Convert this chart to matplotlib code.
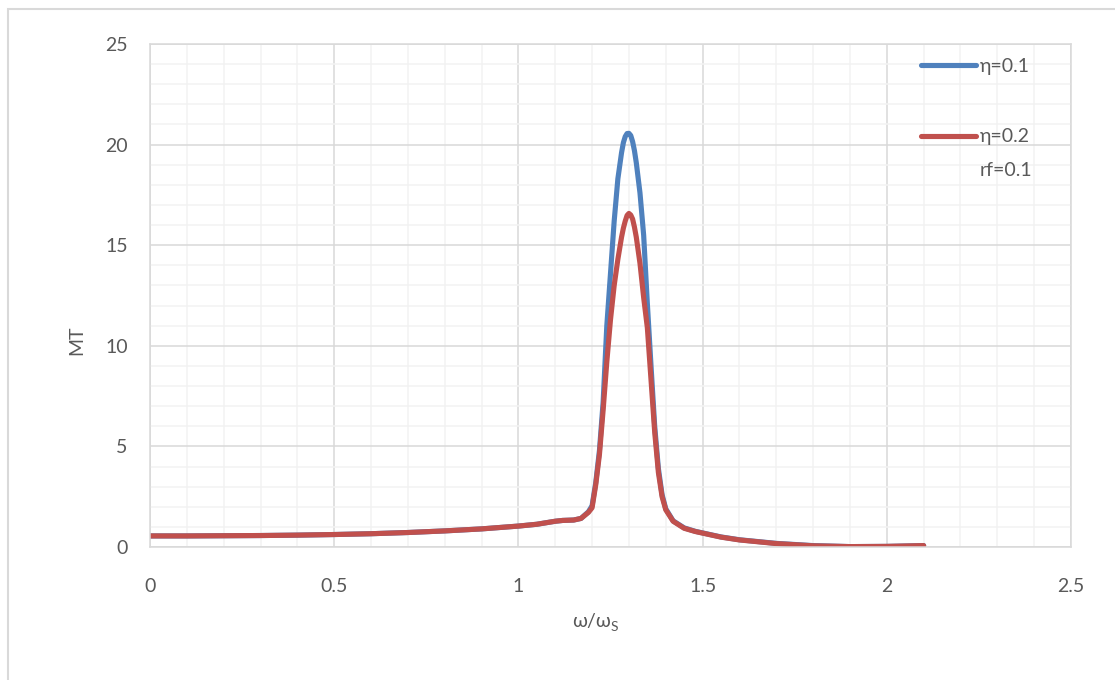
import matplotlib
matplotlib.use("Agg")
import matplotlib.pyplot as plt
from matplotlib.ticker import MultipleLocator, FuncFormatter
from matplotlib.patches import Rectangle

# ---- data ----
x_vals = [0.0, 0.1, 0.2, 0.3, 0.4, 0.5, 0.6, 0.7, 0.8, 0.9, 1.0, 1.05, 1.1, 1.12,
          1.15, 1.17, 1.19, 1.20, 1.21, 1.22, 1.23, 1.24, 1.25, 1.26, 1.27, 1.28,
          1.285, 1.29, 1.295, 1.30, 1.305, 1.31, 1.315, 1.32, 1.33, 1.34, 1.35,
          1.36, 1.37, 1.38, 1.39, 1.40, 1.42, 1.45, 1.48, 1.50, 1.55, 1.60, 1.70,
          1.80, 1.90, 2.00, 2.10]
mt_eta01 = [0.55, 0.55, 0.56, 0.57, 0.59, 0.62, 0.66, 0.72, 0.80, 0.90, 1.04, 1.13,
            1.28, 1.32, 1.34, 1.42, 1.75, 2.05, 3.2, 4.8, 7.2, 11.0, 13.6, 16.2,
            18.3, 19.6, 20.1, 20.4, 20.55, 20.56, 20.45, 20.15, 19.7, 19.1, 17.6,
            15.5, 12.1, 9.0, 6.0, 3.9, 2.6, 1.9, 1.3, 0.95, 0.78, 0.70, 0.50, 0.36,
            0.18, 0.07, 0.02, 0.03, 0.07]
mt_eta02 = [0.55, 0.55, 0.56, 0.57, 0.59, 0.62, 0.66, 0.72, 0.80, 0.90, 1.04, 1.13,
            1.28, 1.32, 1.34, 1.42, 1.72, 1.95, 3.1, 4.6, 6.8, 9.2, 11.3, 13.0,
            14.3, 15.4, 15.85, 16.2, 16.48, 16.58, 16.5, 16.3, 15.9, 15.4, 14.1,
            12.4, 10.9, 8.3, 5.7, 3.7, 2.5, 1.85, 1.28, 0.93, 0.77, 0.69, 0.49, 0.35,
            0.17, 0.06, 0.02, 0.03, 0.07]
series_labels = ["η=0.1", "η=0.2"]
extra_legend_text = "rf=0.1"
x_label_main = "ω/ω"
x_label_sub = "S"
y_label = "MT"

FONT = ["Lato", "DejaVu Sans"]
plt.rcParams["font.family"] = FONT
TXT = "#595959"
BLUE = "#4F81BD"
RED = "#C0504D"
FS = 14

W, H = 1115, 680
fig = plt.figure(figsize=(W / 100, H / 100), dpi=100)
fig.patch.set_facecolor("white")

# outer chart-area border (cropped: only left and top edges visible)
fig.patches.append(Rectangle((8 / W, -0.2), 1.5, (H - 9) / H + 0.2,
                             transform=fig.transFigure, fill=False,
                             edgecolor="#D9D9D9", linewidth=1.5))

ax = fig.add_axes([150 / W, (H - 547) / H, (1071 - 150) / W, (547 - 44) / H])
ax.set_xlim(0, 2.5)
ax.set_ylim(0, 25)
ax.xaxis.set_major_locator(MultipleLocator(0.5))
ax.xaxis.set_minor_locator(MultipleLocator(0.1))
ax.yaxis.set_major_locator(MultipleLocator(5))
ax.yaxis.set_minor_locator(MultipleLocator(1))
ax.grid(which="minor", color="#F2F2F2", linewidth=1.1)
ax.grid(which="major", color="#D9D9D9", linewidth=1.1)
ax.set_axisbelow(True)
for s in ax.spines.values():
    s.set_color("#D9D9D9")
    s.set_linewidth(1.1)
ax.tick_params(which="both", length=0)
ax.tick_params(axis="x", pad=22, labelsize=FS, labelcolor=TXT)
ax.tick_params(axis="y", pad=16, labelsize=FS, labelcolor=TXT)
ax.xaxis.set_major_formatter(FuncFormatter(lambda v, p: f"{v:g}"))
ax.yaxis.set_major_formatter(FuncFormatter(lambda v, p: f"{v:g}"))

l1, = ax.plot(x_vals, mt_eta01, color=BLUE, linewidth=3.7, solid_capstyle="round",
              solid_joinstyle="round", label=series_labels[0])
l2, = ax.plot(x_vals, mt_eta02, color=RED, linewidth=3.7, solid_capstyle="round",
              solid_joinstyle="round", label=series_labels[1])

leg = ax.legend(handles=[l1, l2], loc="upper left", bbox_to_anchor=(921 / W, (H - 58) / H),
                bbox_transform=fig.transFigure, frameon=False, fontsize=FS,
                labelcolor=TXT, handlelength=2.85, handletextpad=0.2,
                labelspacing=2.75, borderpad=0, borderaxespad=0)
fig.text(980 / W, (H - 170) / H, extra_legend_text, fontsize=FS, color=TXT,
         ha="left", va="center")

ax.set_ylabel(y_label, fontsize=FS, color=TXT, labelpad=26)
ax.yaxis.set_label_coords(85 / W, 0.5, transform=fig.transFigure)
fig.text(611 / W, (H - 622) / H, x_label_main, fontsize=FS, color=TXT,
         ha="right", va="center")
fig.text(611 / W, (H - 627) / H, x_label_sub, fontsize=10, color=TXT,
         ha="left", va="center")

fig.savefig("out.png", dpi=100, facecolor="white")
